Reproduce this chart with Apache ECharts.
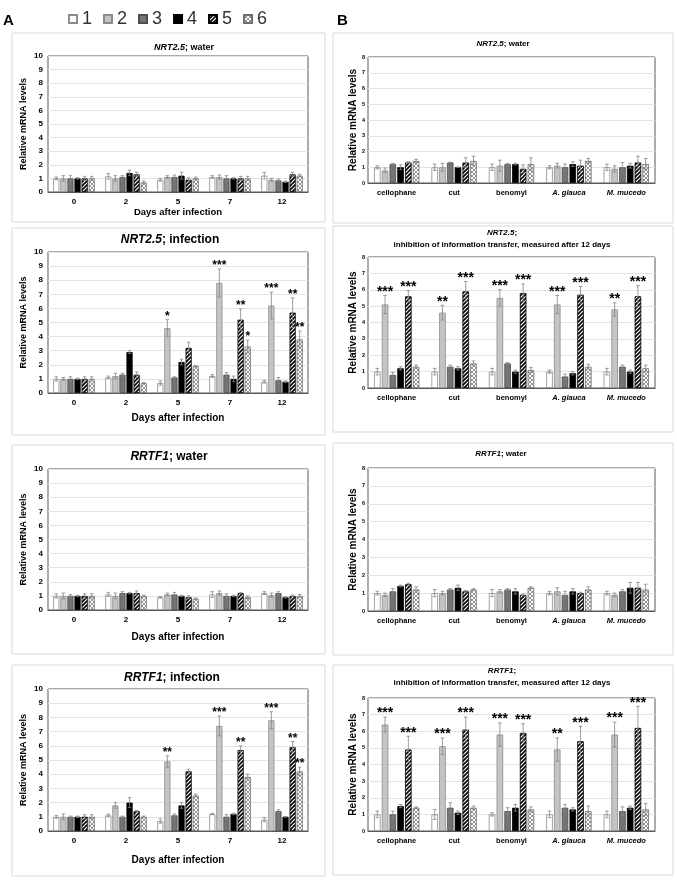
<!DOCTYPE html>
<html>
<head>
<meta charset="utf-8">
<script src="https://cdn.jsdelivr.net/npm/echarts@6/dist/echarts.min.js"></script>
<style>
html,body{margin:0;padding:0;background:#fff;}
#c{width:677px;height:882px;}
</style>
</head>
<body>
<div id="c"></div>
<script>
// ---------- DATA ----------
const seriesNames = ['1', '2', '3', '4', '5', '6'];
const dayCats = ['0', '2', '5', '7', '12'];
const treatCats = ['cellophane', 'cut', 'benomyl', 'A. glauca', 'M. mucedo'];

// Panel A: rows = series 1..6, columns = days after infection
const nrtWaterA = [
  [1.0, 1.15, 0.9, 1.1, 1.2],
  [1.0, 1.0, 1.1, 1.1, 0.9],
  [1.0, 1.1, 1.1, 1.0, 0.85],
  [1.0, 1.4, 1.2, 1.0, 0.75],
  [1.0, 1.3, 0.9, 1.0, 1.3],
  [1.0, 0.7, 1.0, 1.0, 1.2]
];
const nrtWaterAErr = [
  [0.1, 0.2, 0.1, 0.1, 0.25],
  [0.2, 0.2, 0.1, 0.15, 0.1],
  [0.2, 0.1, 0.15, 0.2, 0.1],
  [0.05, 0.2, 0.25, 0.05, 0.05],
  [0.15, 0.15, 0.15, 0.15, 0.15],
  [0.15, 0.1, 0.1, 0.15, 0.1]
];
const nrtWaterAStars = [];

const nrtInfA = [
  [1.0, 1.1, 0.7, 1.2, 0.8],
  [1.0, 1.2, 4.6, 7.8, 6.2],
  [1.0, 1.3, 1.1, 1.3, 0.9],
  [1.0, 2.9, 2.2, 1.0, 0.8],
  [1.0, 1.3, 3.2, 5.2, 5.7],
  [1.0, 0.7, 1.9, 3.3, 3.8]
];
const nrtInfAErr = [
  [0.15, 0.1, 0.15, 0.1, 0.1],
  [0.1, 0.2, 0.6, 1.0, 0.95],
  [0.15, 0.1, 0.05, 0.15, 0.2],
  [0.05, 0.1, 0.2, 0.2, 0.05],
  [0.15, 0.2, 0.4, 0.75, 1.05],
  [0.15, 0.05, 0.05, 0.45, 0.6]
];
// [category index, series index, label]
const nrtInfAStars = [[2, 1, '*'], [3, 1, '***'], [3, 4, '**'], [3, 5, '*'], [4, 1, '***'], [4, 4, '**'], [4, 5, '**']];

const rrtfWaterA = [
  [1.0, 1.1, 0.9, 1.1, 1.2],
  [1.0, 1.0, 1.1, 1.2, 1.05],
  [1.0, 1.2, 1.1, 1.0, 1.2],
  [1.0, 1.2, 1.0, 1.0, 0.9],
  [1.0, 1.2, 0.9, 1.2, 1.0],
  [1.0, 1.0, 0.8, 0.9, 1.0]
];
const rrtfWaterAErr = [
  [0.15, 0.15, 0.05, 0.2, 0.1],
  [0.2, 0.2, 0.1, 0.15, 0.15],
  [0.1, 0.1, 0.15, 0.15, 0.1],
  [0.05, 0.05, 0.05, 0.05, 0.05],
  [0.15, 0.15, 0.1, 0.05, 0.05],
  [0.15, 0.05, 0.05, 0.1, 0.1]
];
const rrtfWaterAStars = [];

const rrtfInfA = [
  [1.0, 1.1, 0.7, 1.2, 0.8],
  [1.0, 1.8, 4.9, 7.4, 7.8],
  [1.0, 1.0, 1.1, 1.0, 1.4],
  [1.0, 2.0, 1.8, 1.2, 1.0],
  [1.0, 1.4, 4.2, 5.7, 5.9],
  [1.0, 1.0, 2.5, 3.8, 4.2]
];
const rrtfInfAErr = [
  [0.1, 0.1, 0.15, 0.05, 0.15],
  [0.2, 0.2, 0.4, 0.7, 0.6],
  [0.05, 0.05, 0.1, 0.15, 0.1],
  [0.05, 0.35, 0.2, 0.05, 0.02],
  [0.15, 0.05, 0.15, 0.3, 0.4],
  [0.15, 0.05, 0.1, 0.2, 0.3]
];
const rrtfInfAStars = [[2, 1, '**'], [3, 1, '***'], [3, 4, '**'], [4, 1, '***'], [4, 4, '**'], [4, 5, '**']];

// Panel B: rows = series 1..6, columns = treatments
const nrtWaterB = [
  [1.0, 1.0, 1.0, 1.0, 1.0],
  [0.8, 1.0, 1.1, 1.1, 0.9],
  [1.2, 1.3, 1.2, 1.0, 1.0],
  [1.0, 1.0, 1.2, 1.2, 1.1],
  [1.3, 1.3, 0.9, 1.1, 1.3],
  [1.4, 1.4, 1.2, 1.4, 1.2]
];
const nrtWaterBErr = [
  [0.1, 0.2, 0.2, 0.1, 0.2],
  [0.15, 0.25, 0.35, 0.15, 0.2],
  [0.05, 0.02, 0.05, 0.2, 0.3],
  [0.15, 0.02, 0.05, 0.15, 0.15],
  [0.05, 0.3, 0.25, 0.35, 0.4],
  [0.1, 0.3, 0.4, 0.15, 0.35]
];
const nrtWaterBStars = [];

const nrtInhB = [
  [1.0, 1.0, 1.0, 1.0, 1.0],
  [5.1, 4.6, 5.5, 5.1, 4.8],
  [0.8, 1.3, 1.5, 0.7, 1.3],
  [1.2, 1.2, 1.0, 0.9, 1.0],
  [5.6, 5.9, 5.8, 5.7, 5.6],
  [1.3, 1.5, 1.1, 1.3, 1.2]
];
const nrtInhBErr = [
  [0.2, 0.2, 0.2, 0.1, 0.2],
  [0.55, 0.45, 0.5, 0.55, 0.4],
  [0.15, 0.1, 0.05, 0.15, 0.1],
  [0.1, 0.1, 0.1, 0.1, 0.1],
  [0.35, 0.6, 0.55, 0.5, 0.65],
  [0.1, 0.15, 0.15, 0.15, 0.2]
];
const nrtInhBStars = [[0, 1, '***'], [0, 4, '***'], [1, 1, '**'], [1, 4, '***'], [2, 1, '***'], [2, 4, '***'], [3, 1, '***'], [3, 4, '***'], [4, 1, '**'], [4, 4, '***']];

const rrtfWaterB = [
  [1.0, 1.0, 1.0, 1.0, 1.0],
  [0.9, 1.0, 1.1, 1.1, 0.9],
  [1.1, 1.2, 1.2, 0.9, 1.1],
  [1.4, 1.3, 1.1, 1.1, 1.3],
  [1.5, 1.1, 0.9, 1.0, 1.3],
  [1.2, 1.2, 1.3, 1.2, 1.2]
];
const rrtfWaterBErr = [
  [0.1, 0.2, 0.2, 0.1, 0.1],
  [0.1, 0.1, 0.1, 0.2, 0.1],
  [0.15, 0.05, 0.05, 0.2, 0.1],
  [0.05, 0.15, 0.15, 0.15, 0.3],
  [0.05, 0.05, 0.05, 0.05, 0.3],
  [0.15, 0.05, 0.05, 0.15, 0.3]
];
const rrtfWaterBStars = [];

const rrtfInhB = [
  [1.0, 1.0, 1.0, 1.0, 1.0],
  [6.4, 5.1, 5.8, 4.9, 5.8],
  [1.0, 1.4, 1.2, 1.4, 1.2],
  [1.5, 1.1, 1.4, 1.3, 1.4],
  [4.9, 6.1, 5.9, 5.4, 6.2],
  [1.4, 1.4, 1.3, 1.2, 1.3]
];
const rrtfInhBErr = [
  [0.2, 0.3, 0.1, 0.2, 0.2],
  [0.45, 0.5, 0.7, 0.7, 0.75],
  [0.2, 0.3, 0.2, 0.2, 0.25],
  [0.1, 0.1, 0.2, 0.1, 0.1],
  [0.8, 0.75, 0.55, 0.9, 1.3],
  [0.05, 0.1, 0.15, 0.3, 0.35]
];
const rrtfInhBStars = [[0, 1, '***'], [0, 4, '***'], [1, 1, '***'], [1, 4, '***'], [2, 1, '***'], [2, 4, '***'], [3, 1, '**'], [3, 4, '***'], [4, 1, '***'], [4, 4, '***']];

// ---------- STYLE ----------
const FONT = '"Liberation Sans", Arial, Helvetica, sans-serif';

function stripePattern() {
  const c = document.createElement('canvas');
  c.width = 4; c.height = 4;
  const g = c.getContext('2d');
  g.fillStyle = '#fff'; g.fillRect(0, 0, 4, 4);
  g.strokeStyle = '#000'; g.lineWidth = 1.6;
  g.beginPath();
  g.moveTo(-1, 5); g.lineTo(5, -1);
  g.moveTo(-1, 1); g.lineTo(1, -1);
  g.moveTo(3, 5); g.lineTo(5, 3);
  g.stroke();
  return c;
}
function checkPattern() {
  const c = document.createElement('canvas');
  c.width = 4; c.height = 4;
  const g = c.getContext('2d');
  g.fillStyle = '#fff'; g.fillRect(0, 0, 4, 4);
  g.strokeStyle = '#8a8a8a'; g.lineWidth = 0.9;
  g.beginPath();
  g.moveTo(0, 0); g.lineTo(4, 4);
  g.moveTo(0, 4); g.lineTo(4, 0);
  g.stroke();
  return c;
}

const barStyles = [
  { color: '#ffffff', borderColor: '#8c8c8c', borderWidth: 0.8 },
  { color: '#c4c4c4', borderColor: '#8c8c8c', borderWidth: 0.8 },
  { color: '#747474', borderColor: '#4d4d4d', borderWidth: 0.8 },
  { color: '#000000', borderColor: '#000000', borderWidth: 0.8 },
  { color: { image: stripePattern(), repeat: 'repeat' }, borderColor: '#000', borderWidth: 0.8 },
  { color: { image: checkPattern(), repeat: 'repeat' }, borderColor: '#6e6e6e', borderWidth: 0.8 }
];

// panel layout (positions only)
const panels = [
  { gene: 'NRT2.5', rest: '; water', cats: dayCats, vals: nrtWaterA, errs: nrtWaterAErr, stars: nrtWaterAStars, col: 0,
    top: 56, height: 136, titleY: 48, titleX: 184, titleSize: 9, xName: true, xNameGap: 15, xNameSize: 9.5, box: [12, 33, 313, 189] },
  { gene: 'NRT2.5', rest: '; infection', cats: dayCats, vals: nrtInfA, errs: nrtInfAErr, stars: nrtInfAStars, col: 0,
    top: 252, height: 141, titleY: 240, titleX: 170, titleSize: 12, xName: true, xNameGap: 20, xNameSize: 10, box: [12, 228, 313, 207] },
  { gene: 'RRTF1', rest: '; water', cats: dayCats, vals: rrtfWaterA, errs: rrtfWaterAErr, stars: rrtfWaterAStars, col: 0,
    top: 469, height: 141, titleY: 457, titleX: 169, titleSize: 12, xName: true, xNameGap: 22, xNameSize: 10, box: [12, 445, 313, 209] },
  { gene: 'RRTF1', rest: '; infection', cats: dayCats, vals: rrtfInfA, errs: rrtfInfAErr, stars: rrtfInfAStars, col: 0,
    top: 689, height: 142, titleY: 678, titleX: 172, titleSize: 12, xName: true, xNameGap: 24, xNameSize: 10, box: [12, 665, 313, 211] },
  { gene: 'NRT2.5', rest: '; water', cats: treatCats, vals: nrtWaterB, errs: nrtWaterBErr, stars: nrtWaterBStars, col: 1,
    top: 57, height: 126, titleY: 44, titleX: 503, titleSize: 8, xName: false, box: [333, 33, 340, 190] },
  { gene: 'NRT2.5', rest: ';\ninhibition of information transfer, measured after 12 days', cats: treatCats, vals: nrtInhB, errs: nrtInhBErr, stars: nrtInhBStars, col: 1,
    top: 257, height: 131, titleY: 239, titleX: 502, titleSize: 8, xName: false, box: [333, 226, 340, 206] },
  { gene: 'RRTF1', rest: '; water', cats: treatCats, vals: rrtfWaterB, errs: rrtfWaterBErr, stars: rrtfWaterBStars, col: 1,
    top: 468, height: 143, titleY: 454, titleX: 501, titleSize: 8, xName: false, box: [333, 443, 340, 212] },
  { gene: 'RRTF1', rest: ';\ninhibition of information transfer, measured after 12 days', cats: treatCats, vals: rrtfInhB, errs: rrtfInhBErr, stars: rrtfInhBStars, col: 1,
    top: 698, height: 133, titleY: 677, titleX: 502, titleSize: 8, xName: false, box: [333, 665, 340, 210] }
];
const colLayout = [
  { left: 48, width: 260, ymax: 10, catGap: 0.20, barGap: 0.15, ySize: 8, xSize: 8, yNameGap: 20, yNameSize: 9, starSize: 12, labelMargin: 5 },
  { left: 368, width: 287, ymax: 8, catGap: 0.21, barGap: 0.18, ySize: 5.5, xSize: 7.5, yNameGap: 8, yNameSize: 10, starSize: 14, labelMargin: 3 }
];

const option = {
  animation: false,
  backgroundColor: '#fff',
  textStyle: { fontFamily: FONT },
  title: [],
  grid: [],
  xAxis: [],
  yAxis: [],
  series: [],
  legend: {
    data: seriesNames,
    left: 63, top: 5,
    icon: 'rect',
    itemWidth: 8, itemHeight: 8, itemGap: 11,
    selectedMode: false,
    textStyle: { fontSize: 18, color: '#333', fontFamily: FONT }
  },
  graphic: []
};

// panel labels
option.graphic.push({ type: 'text', left: 3, top: 13, z: 5,
  style: { text: 'A', font: 'bold 15px ' + FONT, fill: '#000' } });
option.graphic.push({ type: 'text', left: 337, top: 13, z: 5,
  style: { text: 'B', font: 'bold 15px ' + FONT, fill: '#000' } });

panels.forEach((p, pi) => {
  const L = colLayout[p.col];
  option.graphic.push({
    type: 'rect', z: -10,
    shape: { x: p.box[0], y: p.box[1], width: p.box[2], height: p.box[3] },
    style: { fill: '#fff', stroke: '#d9d9d9', lineWidth: 1 }
  });
  option.title.push({
    text: '{i|' + p.gene + '}' + p.rest,
    left: p.titleX, top: p.titleY,
    textAlign: 'center', textVerticalAlign: 'middle',
    padding: 0,
    textStyle: {
      fontSize: p.titleSize, fontWeight: 'bold', color: '#000', fontFamily: FONT, lineHeight: p.titleSize + 4,
      rich: { i: { fontSize: p.titleSize, fontWeight: 'bold', fontStyle: 'italic', color: '#000', fontFamily: FONT, lineHeight: p.titleSize + 4 } }
    }
  });
  option.grid.push({
    left: L.left, width: L.width, top: p.top, height: p.height,
    show: true, borderColor: '#595959', borderWidth: 1, backgroundColor: 'transparent'
  });
  option.xAxis.push({
    type: 'category', gridIndex: pi, data: p.cats,
    axisTick: { show: false },
    axisLine: { show: true, lineStyle: { color: '#595959' } },
    axisLabel: {
      interval: 0, fontSize: L.xSize, fontWeight: 'bold', color: '#000', margin: 6, fontFamily: FONT,
      formatter: v => (v === 'A. glauca' || v === 'M. mucedo') ? '{i|' + v + '}' : v,
      rich: { i: { fontSize: L.xSize, fontWeight: 'bold', fontStyle: 'italic', color: '#000', fontFamily: FONT } }
    },
    name: p.xName ? 'Days after infection' : '',
    nameLocation: 'middle', nameGap: p.xNameGap || 0,
    nameTextStyle: { fontSize: p.xNameSize || 10, fontWeight: 'bold', color: '#000', fontFamily: FONT }
  });
  option.yAxis.push({
    type: 'value', gridIndex: pi, min: 0, max: L.ymax, interval: 1,
    axisLine: { show: false }, axisTick: { show: false },
    splitLine: { show: true, lineStyle: { color: '#e3e3e3', width: 1 } },
    axisLabel: { fontSize: L.ySize, fontWeight: 'bold', color: '#000', margin: L.labelMargin, fontFamily: FONT },
    name: 'Relative mRNA levels', nameLocation: 'middle', nameGap: L.yNameGap,
    nameTextStyle: { fontSize: L.yNameSize, fontWeight: 'bold', color: '#000', fontFamily: FONT }
  });
  for (let s = 0; s < 6; s++) {
    option.series.push({
      type: 'bar', name: seriesNames[s], xAxisIndex: pi, yAxisIndex: pi,
      data: p.vals[s],
      barGap: (L.barGap * 100) + '%', barCategoryGap: (L.catGap * 100) + '%',
      itemStyle: barStyles[s],
      emphasis: { disabled: true }
    });
  }
  // error bars + significance stars
  const errData = [];
  for (let s = 0; s < 6; s++) {
    for (let c = 0; c < p.cats.length; c++) {
      errData.push([c, p.vals[s][c], p.errs[s][c], s]);
    }
  }
  const starMap = {};
  p.stars.forEach(st => { starMap[st[0] + '_' + st[1]] = st[2]; });
  option.series.push({
    type: 'custom', xAxisIndex: pi, yAxisIndex: pi, z: 10, silent: true,
    encode: { x: 0, y: 1 },
    data: errData,
    renderItem: function (params, api) {
      const c = api.value(0), v = api.value(1), e = api.value(2), s = api.value(3);
      const band = api.size([1, 0])[0];
      const n = 6;
      const w = band * (1 - L.catGap) / (n + (n - 1) * L.barGap);
      const total = n * w + (n - 1) * w * L.barGap;
      const base = api.coord([c, 0]);
      const cx = base[0] - total / 2 + s * w * (1 + L.barGap) + w / 2;
      const yT = api.coord([c, v + e])[1];
      const yB = api.coord([c, Math.max(v - e, 0)])[1];
      const cap = w * 0.28;
      const st = { stroke: '#858585', lineWidth: 0.8 };
      const children = [
        { type: 'line', shape: { x1: cx, y1: yT, x2: cx, y2: yB }, style: st },
        { type: 'line', shape: { x1: cx - cap, y1: yT, x2: cx + cap, y2: yT }, style: st },
        { type: 'line', shape: { x1: cx - cap, y1: yB, x2: cx + cap, y2: yB }, style: st }
      ];
      const label = starMap[c + '_' + s];
      if (label) {
        children.push({
          type: 'text',
          style: {
            text: label, x: cx, y: yT + L.starSize * 0.25,
            textAlign: 'center', textVerticalAlign: 'bottom', align: 'center', verticalAlign: 'bottom',
            font: 'bold ' + L.starSize + 'px ' + FONT, fill: '#000'
          }
        });
      }
      return { type: 'group', children: children };
    }
  });
});

const chart = echarts.init(document.getElementById('c'), null, { renderer: 'canvas' });
chart.setOption(option);
</script>
</body>
</html>
